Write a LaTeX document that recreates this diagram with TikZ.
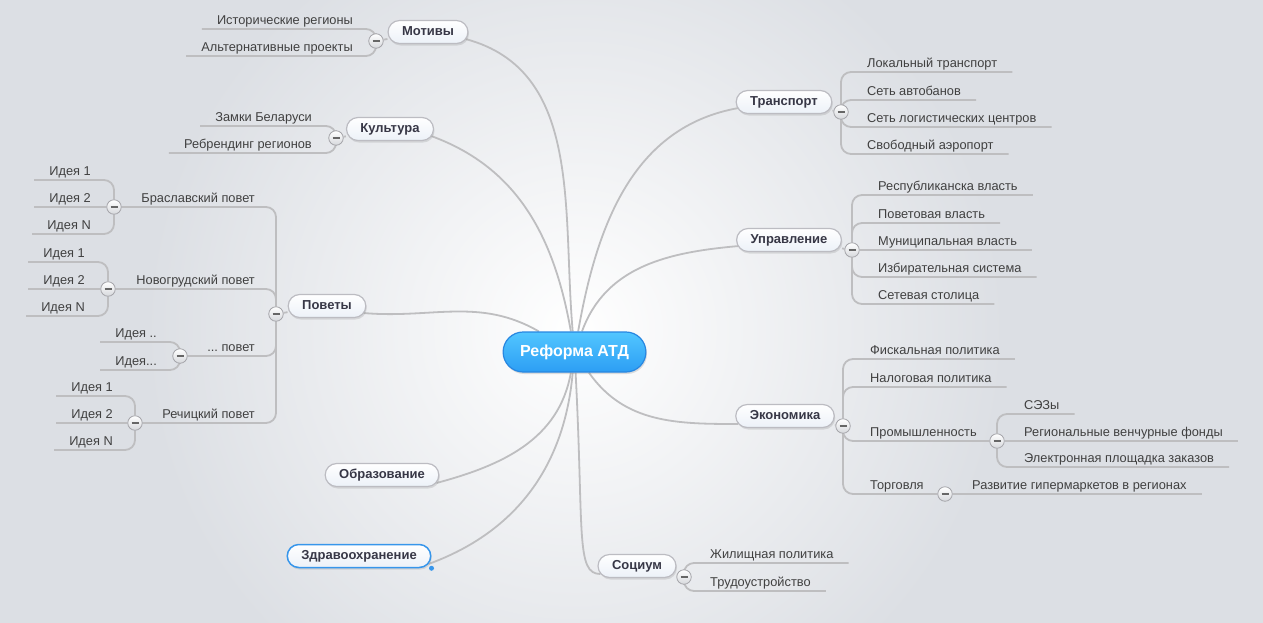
\documentclass[tikz,border=0pt]{standalone}
\usepackage{fontspec}
\setmainfont{Liberation Sans}
\frenchspacing
\usetikzlibrary{backgrounds}
\usetikzlibrary{shadows}
\definecolor{bgc}{RGB}{220,223,228}
\definecolor{lnc}{RGB}{190,190,192}
\definecolor{txc}{RGB}{64,64,64}
\definecolor{tpc}{RGB}{55,55,70}
\definecolor{bdc}{RGB}{188,188,194}
\definecolor{tpb}{RGB}{236,241,248}
\definecolor{ctop}{RGB}{82,198,255}
\definecolor{cbot}{RGB}{44,158,244}
\definecolor{cbd}{RGB}{40,135,225}
\definecolor{selb}{RGB}{55,150,235}
\definecolor{btf}{RGB}{214,216,220}
\definecolor{btd}{RGB}{165,165,170}
\tikzset{tp/.style={rectangle,rounded corners=11.5pt,draw=bdc,line width=1.2pt,top color=white,bottom color=tpb,
  minimum height=23pt,inner xsep=14pt,text height=9.5pt,text depth=2.5pt,text=tpc,
  font=\fontsize{13}{15}\selectfont\bfseries,drop shadow={opacity=0.22,shadow xshift=1pt,shadow yshift=-2pt}}}
\tikzset{lf/.style={inner xsep=15pt,inner ysep=1.5pt,text height=9.5pt,text depth=3pt,text=txc,
  font=\fontsize{12.8}{14}\selectfont}}
\tikzset{bt/.style={circle,draw=btd,line width=0.8pt,inner sep=0pt,minimum size=14.5pt,top color=white,bottom color=btf,
  path picture={\draw[line width=2pt,txc!80] ([xshift=-3.5pt]path picture bounding box.center) -- ([xshift=3.5pt]path picture bounding box.center);}}}
\tikzset{ln/.style={draw=lnc,line width=1.8pt}}
\tikzset{br/.style={ln,rounded corners=10pt}}

\begin{document}
\begin{tikzpicture}[x=1pt,y=-1pt]
\path[use as bounding box] (0,0) rectangle (1263,622);

\node[rectangle,rounded corners=20pt,draw=cbd,line width=1.2pt,top color=ctop,bottom color=cbot,
  minimum height=40pt,inner xsep=17pt,text=white,font=\fontsize{16}{18}\selectfont\bfseries,
  drop shadow={opacity=0.25,shadow xshift=1pt,shadow yshift=-2pt}] (R) at (574.5,352) {Реформа АТД};

\node[tp] (Mot) at (428,32) {Мотивы};
\node[tp] (Kul) at (390,129) {Культура};
\node[tp] (Pov) at (327,306) {Поветы};
\node[tp] (Obr) at (382,475) {Образование};
\node[tp,draw=selb,line width=1.5pt] (Zdr) at (359,556) {Здравоохранение};
\node[tp] (Tr) at (784,102) {Транспорт};
\node[tp] (Up) at (789,240) {Управление};
\node[tp] (Ek) at (785,416) {Экономика};
\node[tp] (Soc) at (637,566) {Социум};
\fill[selb] (Zdr.south east) circle (2.5pt);

\node[bt] (bMot) at (376,41) {};
\node[bt] (bKul) at (336,138) {};
\node[bt] (bPov) at (276,314) {};
\node[bt] (bBr) at (114,207) {};
\node[bt] (bNov) at (108,289) {};
\node[bt] (bDot) at (180,356) {};
\node[bt] (bRec) at (135,423) {};
\node[bt] (bTr) at (841,112) {};
\node[bt] (bUp) at (852,250) {};
\node[bt] (bEk) at (843,426) {};
\node[bt] (bProm) at (997,441) {};
\node[bt] (bTorg) at (945,494) {};
\node[bt] (bSoc) at (684,577) {};

\foreach \t/\y [count=\i] in {Исторические регионы/29, Альтернативные проекты/56}
  \node[lf,anchor=south east] (Mot\i) at (368,\y) {\t};
\foreach \t/\y [count=\i] in {Замки Беларуси/126, Ребрендинг регионов/153}
  \node[lf,anchor=south east] (Kul\i) at (327,\y) {\t};
\node[lf,anchor=south east] (Pov1) at (270,207) {Браславский повет};
\node[lf,anchor=south east] (Pov2) at (270,289) {Новогрудский повет};
\node[lf,anchor=south east] (Pov3) at (270,356) {... повет};
\node[lf,anchor=south east] (Pov4) at (270,423) {Речицкий повет};
\foreach \t/\y [count=\i] in {Идея 1/180, Идея 2/207, Идея N/234}
  \node[lf,anchor=south east] (Br\i) at (106,\y) {\t};
\foreach \t/\y [count=\i] in {Идея 1/262, Идея 2/289, Идея N/316}
  \node[lf,anchor=south east] (Nov\i) at (100,\y) {\t};
\node[lf,anchor=south east] (Dot1) at (172,342) {Идея ..};
\node[lf,anchor=south east] (Dot2) at (172,370) {Идея...};
\foreach \t/\y [count=\i] in {Идея 1/396, Идея 2/423, Идея N/450}
  \node[lf,anchor=south east] (Rec\i) at (128,\y) {\t};

\foreach \t/\y [count=\i] in {Локальный транспорт/72, Сеть автобанов/100, Сеть логистических центров/127, Свободный аэропорт/154}
  \node[lf,anchor=south west] (Tr\i) at (852,\y) {\t};
\foreach \t/\y [count=\i] in {Республиканска власть/195, Поветовая власть/223, Муниципальная власть/250, Избирательная система/277, Сетевая столица/304}
  \node[lf,anchor=south west] (Up\i) at (863,\y) {\t};
\foreach \t/\y [count=\i] in {Фискальная политика/359, Налоговая политика/387, Промышленность/441, Торговля/494}
  \node[lf,anchor=south west] (Ek\i) at (855,\y) {\t};
\foreach \t/\y [count=\i] in {СЭЗы/414, Региональные венчурные фонды/441, Электронная площадка заказов/467}
  \node[lf,anchor=south west] (Pr\i) at (1009,\y) {\t};
\node[lf,anchor=south west] (Tg1) at (957,494) {Развитие гипермаркетов в регионах};
\foreach \t/\y [count=\i] in {Жилищная политика/563, Трудоустройство/591}
  \node[lf,anchor=south west] (Soc\i) at (695,\y) {\t};

\begin{scope}[on background layer]
\clip (-10,-10) rectangle (1273,632);
\fill[bgc] (-10,-10) rectangle (1273,632);
\shade[inner color=white,outer color=bgc] (575,330) circle (430);

\draw[ln] (R) to[out=95,in=-15] ([xshift=-3pt,yshift=-7pt]Mot.east);
\draw[ln] (R) to[out=100,in=-20] ([xshift=-3pt,yshift=-7pt]Kul.east);
\draw[ln] (R) to[out=150,in=-5] ([xshift=-3pt,yshift=-7pt]Pov.east);
\draw[ln] (R) to[out=-100,in=15] ([xshift=-3pt,yshift=-8pt]Obr.east);
\draw[ln] (R) to[out=-95,in=20] ([xshift=-3pt,yshift=-8pt]Zdr.east);
\draw[ln] (R) to[out=-87,in=180,out distance=160pt,in distance=25pt] ([xshift=3pt,yshift=-8pt]Soc.west);
\draw[ln] (R) to[out=80,in=190] ([xshift=3pt,yshift=-6pt]Tr.west);
\draw[ln] (R) to[out=70,in=185] ([xshift=3pt,yshift=-6pt]Up.west);
\draw[ln] (R) to[out=-55,in=180] ([xshift=3pt,yshift=-8pt]Ek.west);

\foreach \n in {Mot,Kul,Pov,Tr,Up,Ek,Soc}
  \draw[ln] (b\n) -- (\n);

\foreach \i in {1,2} \draw[br] (bMot) |- (Mot\i.south west);
\foreach \i in {1,2} \draw[br] (bKul) |- (Kul\i.south west);
\draw[br] (bPov) |- (bBr);
\draw[br] (bPov) |- (bNov);
\draw[br] (bPov) |- (bDot);
\draw[br] (bPov) |- (bRec);
\foreach \g in {Br,Nov,Rec} {
  \draw[br] (b\g) |- (\g1.south west);
  \draw[ln] (b\g) -- (\g2.south west);
  \draw[br] (b\g) |- (\g3.south west);
}
\foreach \i in {1,2} \draw[br] (bDot) |- (Dot\i.south west);

\foreach \i in {1,...,4} \draw[br] (bTr) |- (Tr\i.south east);
\foreach \i in {1,2,4,5} \draw[br] (bUp) |- (Up\i.south east);
\draw[ln] (bUp) -- (Up3.south east);
\foreach \i in {1,2} \draw[br] (bEk) |- (Ek\i.south east);
\draw[br] (bEk) |- (bProm);
\draw[br] (bEk) |- (bTorg);
\draw[br] (bProm) |- (Pr1.south east);
\draw[ln] (bProm) -- (Pr2.south east);
\draw[br] (bProm) |- (Pr3.south east);
\draw[ln] (bTorg) -- (Tg1.south east);
\foreach \i in {1,2} \draw[br] (bSoc) |- (Soc\i.south east);
\end{scope}
\end{tikzpicture}
\end{document}
